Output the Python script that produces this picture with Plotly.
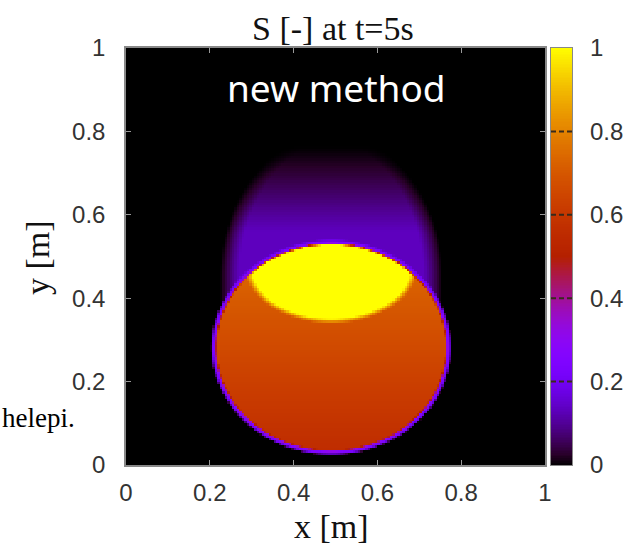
import numpy as np
import plotly.graph_objects as go

# ---------------- values ----------------
N_CELLS = 170                                  # grid resolution of the field
tick_vals = [0, 0.2, 0.4, 0.6, 0.8, 1]
tick_text = ["0", "0.2", "0.4", "0.6", "0.8", "1"]
cb_dash_levels = [0.2, 0.4, 0.6, 0.8]

drop_center = [0.49, 0.282]                    # droplet (ellipse) centre
drop_radii = [0.280, 0.252]                    # droplet half-axes
ring_value = 0.24                              # S on droplet outline
ring_halfwidth = 0.0035
interior_y = [0.03, 0.45]                      # interior gradient (bottom -> top)
interior_v = [0.56, 0.73]
cap_center = [0.49, 0.48]                      # yellow cap ellipse
cap_radii = [0.20, 0.135]
cap_value = 1.0
plume_x = 0.49                                 # purple plume above the droplet
plume_halfwidth = 0.265
plume_y = [0.36, 0.45, 0.56, 0.765]            # fade-in bottom, dome start, full level, top
plume_value = 0.135

# ---------------- build field ----------------
cell = 1.0 / N_CELLS
xc = (np.arange(N_CELLS) + 0.5) * cell
yc = (np.arange(N_CELLS) + 0.5) * cell
X, Y = np.meshgrid(xc, yc)

dome = np.clip(1 - ((Y - plume_y[1]) / (plume_y[3] - plume_y[1] + 0.025)) ** 2, 0, 1)
w = np.where(Y > plume_y[1], plume_halfwidth * np.sqrt(dome), plume_halfwidth)
fh = np.clip((w - np.abs(X - plume_x)) / 0.045, 0, 1)
fv = np.clip((plume_y[3] - Y) / (plume_y[3] - plume_y[2]), 0, 1) ** 1.2
fb = np.clip((Y - plume_y[0]) / 0.04, 0, 1)
outside = plume_value * fh * fv * fb

r = np.sqrt(((X - drop_center[0]) / drop_radii[0]) ** 2 + ((Y - drop_center[1]) / drop_radii[1]) ** 2)
d = (r - 1) * np.mean(drop_radii)
interior = np.interp(Y, interior_y, interior_v)
rc = np.sqrt(((X - cap_center[0]) / cap_radii[0]) ** 2 + ((Y - cap_center[1]) / cap_radii[1]) ** 2)
capw = np.clip((1 - rc) / 0.08 + 0.5, 0, 1)
inside_val = interior + (cap_value - interior) * capw

Z = np.where(d < 0, inside_val, outside)
wr = np.clip((ring_halfwidth - np.abs(d)) / cell + 0.6, 0, 1)
Z = Z * (1 - wr) + ring_value * wr

# gnuplot default palette (rgbformulae 7,5,15)
def pal(v):
    r_ = np.sqrt(v)
    g_ = v ** 3
    b_ = max(np.sin(2 * np.pi * v), 0)
    return "rgb(%d,%d,%d)" % (round(255 * r_), round(255 * g_), round(255 * b_))

cs = [[s, pal(s)] for s in np.linspace(0, 1, 41)]
cb_levels = np.linspace(0, 1, 256)

W, H = 635, 549
L, R, T, B = 126, 63, 48, 84
pw = W - L - R           # 446
main_w = 419
cb_left = 551 - L
cb_w = 21

fig = go.Figure()
fig.add_trace(go.Heatmap(
    x=xc, y=yc, z=Z, zmin=0, zmax=1, colorscale=cs, zsmooth=False,
    showscale=False, hoverinfo="skip", xaxis="x", yaxis="y",
))
fig.add_trace(go.Heatmap(
    x=[0], y=cb_levels, z=[[v] for v in cb_levels], zmin=0, zmax=1, colorscale=cs,
    showscale=False, hoverinfo="skip", xaxis="x2", yaxis="y2",
))

font_ticks = dict(family="Liberation Sans", size=24, color="#333")
axis_common = dict(
    range=[0, 1], tickvals=tick_vals, ticktext=tick_text, ticks="inside", ticklen=5,
    tickcolor="#999", showline=True, mirror="ticks", linecolor="#888", linewidth=1.5,
    showgrid=False, zeroline=False, tickfont=font_ticks,
)

shapes = []
for v in cb_dash_levels:
    shapes.append(dict(type="line", xref="x2", yref="y2",
                       x0=-0.5, x1=0.5, y0=v, y1=v,
                       line=dict(color="#3a2a1a", width=2, dash="5px,3px"), layer="above"))

fig.update_layout(
    width=W, height=H, margin=dict(l=L, r=R, t=T, b=B),
    paper_bgcolor="white", plot_bgcolor="black",
    xaxis=dict(axis_common, domain=[0, main_w / pw], ticklabelstandoff=5),
    yaxis=dict(axis_common, ticklabelstandoff=14),
    xaxis2=dict(domain=[cb_left / pw, (cb_left + cb_w) / pw], range=[-0.5, 0.5],
                showticklabels=False, ticks="", showgrid=False, zeroline=False,
                showline=True, mirror=True, linecolor="#888", linewidth=1.2, anchor="y2"),
    yaxis2=dict(range=[0, 1], anchor="x2", side="right", tickvals=tick_vals,
                ticktext=tick_text, ticks="", showgrid=False, zeroline=False,
                showline=True, mirror=True, linecolor="#888", linewidth=1.2,
                tickfont=font_ticks, ticklabelstandoff=12),
    shapes=shapes,
    showlegend=False,
    annotations=[
        dict(text="S [-] at t=5s", xref="paper", yref="paper", x=(333 - L) / pw,
             y=(H - 28 - B) / (H - T - B), xanchor="center", yanchor="middle", showarrow=False,
             font=dict(family="Liberation Serif", size=34, color="#111")),
        dict(text="x [m]", xref="paper", yref="paper", x=(331 - L) / pw,
             y=(H - 526 - B) / (H - T - B), xanchor="center", yanchor="middle", showarrow=False,
             font=dict(family="Liberation Serif", size=34, color="#111")),
        dict(text="y [m]", xref="paper", yref="paper", x=(37 - L) / pw,
             y=(H - 258 - B) / (H - T - B), xanchor="center", yanchor="middle", showarrow=False,
             textangle=-90, font=dict(family="Liberation Serif", size=34, color="#111")),
        dict(text="new method", xref="paper", yref="paper", x=(336 - L) / pw,
             y=(H - 88 - B) / (H - T - B), xanchor="center", yanchor="middle", showarrow=False,
             font=dict(family="Noto Sans", size=37, color="white")),
        dict(text="helepi.", xref="paper", yref="paper", x=(0 - L) / pw,
             y=(H - 418 - B) / (H - T - B), xanchor="left", yanchor="middle", showarrow=False,
             font=dict(family="Liberation Serif", size=27, color="black")),
    ],
)

fig.write_html("out.html")
